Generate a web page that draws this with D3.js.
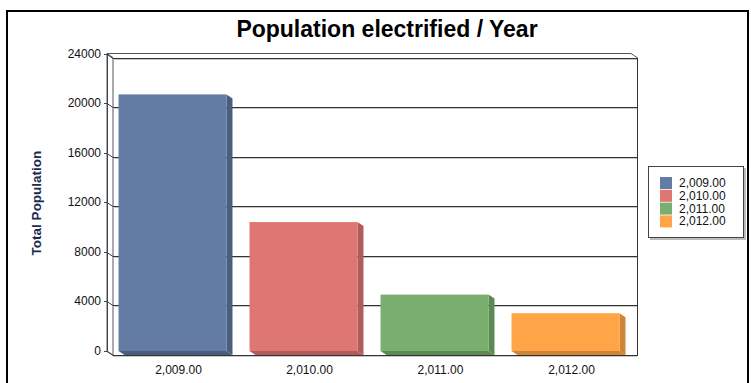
<!DOCTYPE html>
<html>
<head>
<meta charset="utf-8">
<script src="https://cdn.jsdelivr.net/npm/d3@7"></script>
<style>
  body { margin: 0; background: #fff; }
  svg { display: block; font-family: Arial, 'Liberation Sans', sans-serif; }
</style>
</head>
<body>
<div id="chart"></div>
<script>
const categories = ['2,009.00', '2,010.00', '2,011.00', '2,012.00'];
const values = [20700, 10400, 4550, 3050];
const yTicks = [0, 4000, 8000, 12000, 16000, 20000, 24000];
const faceColors = ['#637ca3', '#de7772', '#7aaf6f', '#ffa547'];
const sideColors = ['#4a5d7d', '#b15c58', '#5d8a54', '#cf8436'];

const width = 751;
const height = 383;
// depth of the 3D look: back plane is shifted right/down from the front
const dx = 6;
const dy = 4;

const svg = d3.select('#chart')
  .append('svg')
  .attr('width', width)
  .attr('height', height);

// outer frame
svg.append('rect')
  .attr('x', 7).attr('y', 11)
  .attr('width', 741).attr('height', 400)
  .attr('fill', 'none')
  .attr('stroke', '#000')
  .attr('stroke-width', 2);

svg.append('text')
  .attr('x', 387).attr('y', 37)
  .attr('text-anchor', 'middle')
  .attr('font-size', 23)
  .attr('font-weight', 'bold')
  .text('Population electrified / Year');

const x = d3.scaleBand()
  .domain(categories)
  .range([113, 637])
  .paddingInner(0.176)
  .paddingOuter(0.088);

// back wall scale
const y = d3.scaleLinear().domain([0, 24000]).range([355, 57.5]);

const x0 = 113, x1 = 637;

// left side panel
svg.append('path')
  .attr('d', `M${x0 - dx},${y(24000) - dy} L${x0},${y(24000)} L${x0},${y(0)} L${x0 - dx},${y(0) - dy} Z`)
  .attr('fill', '#fff')
  .attr('stroke', '#555')
  .attr('stroke-width', 1);

// top ledge
svg.append('path')
  .attr('d', `M${x0 - dx},${y(24000) - dy} L${x1 - dx},${y(24000) - dy} L${x1},${y(24000)}`)
  .attr('fill', 'none')
  .attr('stroke', '#555');

// gridlines with slight shadow
const grid = svg.append('g');
yTicks.forEach(t => {
  const yy = Math.round(y(t)) + 0.5;
  grid.append('line')
    .attr('x1', x0).attr('x2', x1)
    .attr('y1', yy + 1).attr('y2', yy + 1)
    .attr('stroke', '#c8c8c8');
  grid.append('line')
    .attr('x1', x0).attr('x2', x1)
    .attr('y1', yy).attr('y2', yy)
    .attr('stroke', '#333');
  // slant from the front tick to the wall
  grid.append('path')
    .attr('d', `M${x0 - dx - 3},${yy - dy} L${x0 - dx},${yy - dy} L${x0},${yy}`)
    .attr('fill', 'none')
    .attr('stroke', '#444');
});

// right edge of wall
svg.append('line')
  .attr('x1', x1 + 0.5).attr('x2', x1 + 0.5)
  .attr('y1', y(24000)).attr('y2', y(0) + 1)
  .attr('stroke', '#333');

// front edge of left panel
svg.append('line')
  .attr('x1', x0 - dx + 0.5).attr('x2', x0 - dx + 0.5)
  .attr('y1', y(24000) - dy).attr('y2', y(0) - dy)
  .attr('stroke', '#444');

// y tick labels
svg.append('g')
  .selectAll('text')
  .data(yTicks)
  .join('text')
  .attr('x', 101)
  .attr('y', d => y(d) - dy + 4)
  .attr('text-anchor', 'end')
  .attr('font-size', 12)
  .attr('fill', '#111')
  .text(d => d);

// y axis title
svg.append('text')
  .attr('transform', 'translate(41,203) rotate(-90)')
  .attr('text-anchor', 'middle')
  .attr('font-size', 13.5)
  .attr('font-weight', 'bold')
  .attr('fill', '#1b2a4e')
  .text('Total Population');

// bars
const bars = svg.append('g')
  .selectAll('g')
  .data(categories.map((c, i) => ({ c, v: values[i], i })))
  .join('g');

// side face (right)
bars.append('path')
  .attr('d', d => {
    const xr = x(d.c) + x.bandwidth() - dx;
    const top = y(d.v) - dy;
    const bot = y(0) - dy;
    return `M${xr},${top} L${xr + dx},${top + dy} L${xr + dx},${bot + dy} L${xr},${bot} Z`;
  })
  .attr('fill', d => sideColors[d.i]);

// bottom face
bars.append('path')
  .attr('d', d => {
    const xl = x(d.c) - dx;
    const xr = x(d.c) + x.bandwidth() - dx;
    const bot = y(0) - dy;
    return `M${xl},${bot} L${xr},${bot} L${xr + dx},${bot + dy} L${xl + dx},${bot + dy} Z`;
  })
  .attr('fill', d => sideColors[d.i]);

// front face
bars.append('rect')
  .attr('x', d => x(d.c) - dx)
  .attr('y', d => y(d.v) - dy)
  .attr('width', x.bandwidth())
  .attr('height', d => y(0) - y(d.v))
  .attr('fill', d => faceColors[d.i]);

// x labels
svg.append('g')
  .selectAll('text')
  .data(categories)
  .join('text')
  .attr('x', d => x(d) + x.bandwidth() / 2)
  .attr('y', 374)
  .attr('text-anchor', 'middle')
  .attr('font-size', 12)
  .attr('fill', '#111')
  .text(d => d);

// legend
const legend = svg.append('g').attr('transform', 'translate(648,166)');
legend.append('rect')
  .attr('x', 2).attr('y', 2)
  .attr('width', 96).attr('height', 72)
  .attr('fill', '#bbb');
legend.append('rect')
  .attr('x', 0.5).attr('y', 0.5)
  .attr('width', 95).attr('height', 71)
  .attr('fill', '#fff')
  .attr('stroke', '#444');

const items = legend.selectAll('g')
  .data(categories)
  .join('g')
  .attr('transform', (d, i) => `translate(12,${11 + i * 12.8})`);
items.append('rect')
  .attr('width', 12).attr('height', 12)
  .attr('fill', (d, i) => faceColors[i]);
items.append('text')
  .attr('x', 19).attr('y', 10)
  .attr('font-size', 12)
  .attr('fill', '#111')
  .text(d => d);
</script>
</body>
</html>
